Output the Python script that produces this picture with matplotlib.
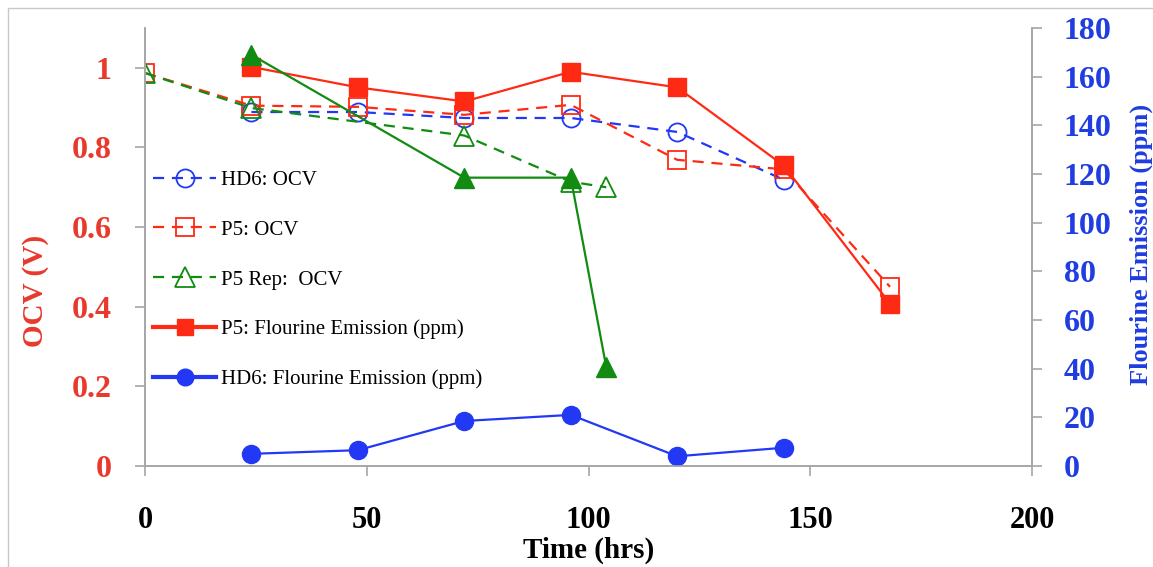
import matplotlib.pyplot as plt
from matplotlib.patches import Rectangle
from matplotlib.lines import Line2D

# 時間 (hrs)
hd6_ocv_t = [24, 48, 72, 96, 120, 144]
hd6_ocv = [0.889, 0.889, 0.874, 0.874, 0.839, 0.719]

p5_ocv_t = [0, 24, 48, 72, 96, 120, 144, 168]
p5_ocv = [0.987, 0.905, 0.902, 0.882, 0.907, 0.769, 0.745, 0.45]

p5rep_ocv_t = [0, 24, 72, 96, 104]
p5rep_ocv = [0.987, 0.899, 0.83, 0.714, 0.70]

p5_f_t = [24, 48, 72, 96, 120, 144, 168]
p5_f = [164, 155.6, 149.8, 162, 155.6, 123.5, 66.7]

hd6_f_t = [24, 48, 72, 96, 120, 144]
hd6_f = [5, 6.5, 18.5, 21, 4, 7.5]

p5rep_f_t = [24, 72, 96, 104]
p5rep_f = [169, 118.5, 118.5, 40.7]

RED = '#ff2a14'
BLUE = '#2238f5'
GREEN = '#118c11'
RED_TXT = '#e8392c'
BLUE_TXT = '#1f3de0'
GRAY = '#a6a6a6'
SERIF = 'Liberation Serif'

fig = plt.figure(figsize=(11.53, 5.67), dpi=100)
ax = fig.add_axes([145/1153, 1 - 466/567, (1032 - 145)/1153, (466 - 28)/567])
ax2 = ax.twinx()

dash = (5, 3.5)
l1, = ax.plot(hd6_ocv_t, hd6_ocv, color=BLUE, ls='--', dashes=dash, lw=1.6,
              marker='o', ms=13, mfc='none', mec=BLUE, mew=1.3, label='HD6: OCV')
l2, = ax.plot(p5_ocv_t, p5_ocv, color=RED, ls='--', dashes=dash, lw=1.6,
              marker='s', ms=12.5, mfc='none', mec=RED, mew=1.3, label='P5: OCV')
l3, = ax.plot(p5rep_ocv_t, p5rep_ocv, color=GREEN, ls='--', dashes=dash, lw=1.6,
              marker='^', ms=14, mfc='none', mec=GREEN, mew=1.3, label='P5 Rep:  OCV')

l5, = ax2.plot(hd6_f_t, hd6_f, color=BLUE, lw=1.6, marker='o', ms=13,
               label='HD6: Flourine Emission (ppm)')
l4, = ax2.plot(p5_f_t, p5_f, color=RED, lw=1.6, marker='s', ms=12.5,
               label='P5: Flourine Emission (ppm)')
ax2.plot(p5rep_f_t, p5rep_f, color=GREEN, lw=1.6, marker='^', ms=15)

ax.set_xlim(0, 200)
ax.set_ylim(0, 1.1)
ax2.set_ylim(0, 180)
ax.set_xticks([0, 50, 100, 150, 200])
ax.set_yticks([0, 0.2, 0.4, 0.6, 0.8, 1.0])
ax.set_yticklabels(['0', '0.2', '0.4', '0.6', '0.8', '1'])
ax2.set_yticks(range(0, 181, 20))

for a in (ax, ax2):
    a.spines['top'].set_visible(False)
    for s in ('left', 'right', 'bottom'):
        a.spines[s].set_color(GRAY)
        a.spines[s].set_linewidth(1.2)

ax.tick_params(axis='y', colors=GRAY, length=7, width=1.2, pad=17, labelsize=23,
               labelcolor=RED_TXT)
ax.tick_params(axis='x', colors=GRAY, length=7, width=1.2, pad=22, labelsize=22,
               labelcolor='black')
ax2.tick_params(axis='y', colors=GRAY, length=7, width=1.2, pad=16, labelsize=23,
                labelcolor=BLUE_TXT)
for lab in ax.get_xticklabels() + ax.get_yticklabels() + ax2.get_yticklabels():
    lab.set_fontfamily(SERIF)
    lab.set_fontweight('bold')

ax.set_xlabel('Time (hrs)', fontsize=21, fontweight='bold', family=SERIF, labelpad=1)
ax.set_ylabel('OCV (V)', fontsize=21, fontweight='bold', family=SERIF, color=RED_TXT)
ax.yaxis.set_label_coords(-0.108, 0.40)
ax2.set_ylabel('Flourine Emission (ppm)', fontsize=19, fontweight='bold', family=SERIF,
               color=BLUE_TXT)
ax2.yaxis.set_label_coords(1.11, 0.505)

# 圖例
h4 = Line2D([], [], color=RED, lw=3, marker='s', ms=12)
h5 = Line2D([], [], color=BLUE, lw=3, marker='o', ms=12)
leg = ax2.legend([l1, l2, l3, h4, h5],
                 ['HD6: OCV', 'P5: OCV', 'P5 Rep:  OCV',
                  'P5: Flourine Emission (ppm)', 'HD6: Flourine Emission (ppm)'],
                 loc='upper left', bbox_to_anchor=(0.0, 0.694), frameon=False,
                 prop={'family': SERIF, 'size': 15}, handlelength=3.0,
                 labelspacing=1.45, handletextpad=0.25, borderaxespad=0.0)

# 外框
fig.patches.append(Rectangle((8/1153, -0.05), 1.2, (567 - 8)/567 + 0.05, fill=False,
                             edgecolor='#c8c8c8', lw=1, transform=fig.transFigure))

fig.savefig('out.png', dpi=100)
